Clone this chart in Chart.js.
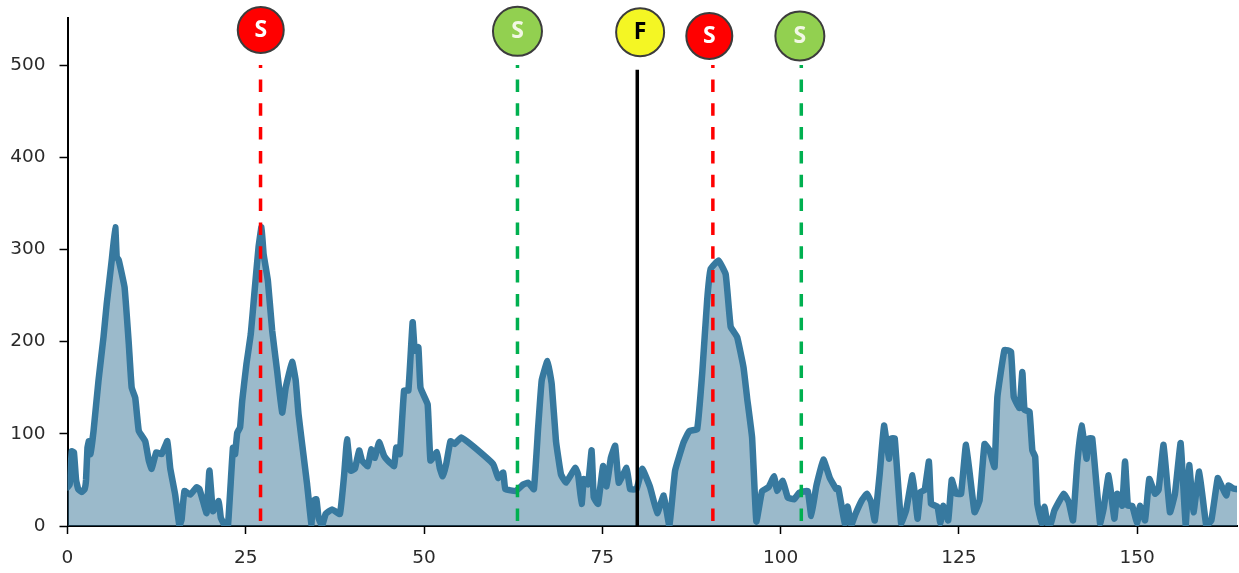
<!DOCTYPE html>
<html>
<head>
<meta charset="utf-8">
<title>chart</title>
<script src="https://cdn.jsdelivr.net/npm/chart.js@4"></script>
<style>
    html, body { margin: 0; padding: 0; background: #fff; }
    #wrap { width: 1239px; height: 573px; }
</style>
</head>
<body>
<div id="wrap"><canvas id="grafica" width="1239" height="573"></canvas></div>
<script>
// values
const seriesX = [0,0.3,0.6,0.9,1.2,1.5,2,2.4,2.6,2.8,3,3.2,3.65,4.35,5.05,5.5,6.2,6.7,6.9,7.2,8,8.6,9,9.5,10,10.9,11.4,11.8,12.45,13.2,14,14.4,15.1,15.7,16,16.4,17.2,18.1,18.5,19,19.5,19.9,20.4,21.2,21.5,22.1,22.5,23.2,23.5,23.8,24.2,24.5,25.1,25.7,26.2,26.8,27.2,27.5,28.1,28.7,29.4,30.1,30.6,31.5,32,32.4,32.9,33.6,34.2,34.4,34.9,35.2,35.7,36.2,37.1,38.2,38.8,39.2,39.7,40.3,40.9,41.3,42.1,42.6,43.1,43.7,44.4,44.9,45.8,46.1,46.6,47.2,47.8,48.4,48.7,49.2,49.5,50.5,50.9,51.8,52.2,52.6,53.1,53.7,54.3,55.2,56.8,59.7,60.4,61.1,61.4,62.9,63.9,64.6,65.4,66,66.5,67.3,67.9,68.5,69.2,69.9,71.2,71.6,72.1,72.4,73,73.5,73.8,74.4,75.1,75.6,76.2,76.8,77.3,78.4,78.9,79.8,80.6,81.7,82.7,83.6,84.4,85.2,86.4,87.2,88.3,89,89.7,90.2,91.3,92.3,93,93.9,94.8,95.3,96,96.6,97.4,98.3,99.1,99.5,100.3,101,101.9,102.6,103.8,104.3,105,106,106.9,107.8,108.1,109,109.4,109.9,110.5,111.4,112.1,112.7,113.2,113.9,114.5,115.2,115.5,116,116.9,117.6,118.5,119.2,119.6,120.2,120.8,121.1,122,122.4,122.8,123.5,124,124.6,125.3,126,127.2,127.9,128.6,129.3,130,130.4,131.4,132.3,132.7,133.5,133.9,134.2,134.9,135.3,135.7,136,136.6,137,137.4,137.9,138.4,139.7,140.4,141,141.6,142.2,142.9,143.2,143.7,144.8,145.3,146,146.8,147.2,147.9,148.3,148.7,149.3,150,150.4,151.1,151.7,152.5,153,153.7,154.6,155.3,156.1,156.8,157.3,157.9,158.7,159.7,160.4,161.3,161.8,162.5,162.8,163.4,164];
const seriesY = [42,45,81,80,50,40,37,40,50,85,92,78,103,158,205,241,288,324,292,288,259,197,150,139,103,92,71,62,80,78,92,63,34,0,7,38,34,42,40,27,14,60,16,27,9,0,0,85,78,101,107,136,176,208,252,303,324,295,266,212,168,123,150,178,158,121,89,45,2,27,29,9,0,13,18,13,56,94,60,62,82,71,65,83,74,91,76,71,65,85,78,147,147,221,190,194,150,132,71,80,63,54,67,92,89,96,87,67,52,58,40,38,45,47,40,107,158,179,154,92,56,47,63,56,24,51,45,82,31,24,65,43,74,87,47,63,40,40,62,42,14,33,0,60,91,103,105,165,245,279,288,273,216,205,172,139,96,5,38,42,54,38,49,31,29,36,38,11,43,72,52,40,41,3,21,1,13,28,35,26,6,57,109,73,95,95,3,17,55,8,37,39,70,24,21,3,22,6,50,35,35,88,15,28,89,82,64,140,191,189,140,128,167,126,124,82,75,24,3,21,3,3,17,35,26,6,68,109,73,95,95,3,19,55,8,35,22,70,22,22,3,22,6,51,35,39,88,15,35,90,1,66,15,59,0,6,52,44,33,44,41,40];

const yTicks = [0, 100, 200, 300, 400, 500];
const xTicks = [0, 25, 50, 75, 100, 125, 150];

const markerX = [27.1, 63.1, 80.3, 90, 102.7];
const markerY = [538, 536.5, 535.5, 531.5, 531.5];
const markerLetters = ['S', 'S', 'F', 'S', 'S'];
const markerKinds = ['stop', 'go', 'flag', 'stop', 'go'];

const lineX = [27.07, 63.1, 79.9, 90.5, 102.9];
const lineTop = [500, 500, 495, 500, 500];

const estilos = {
    stop: { fill: '#ff0000', text: '#ffffff', line: '#ff0000', dash: [12.5, 11.34], radius: 23 },
    go: { fill: '#92d050', text: '#f2f7e4', line: '#00b050', dash: [12.5, 11.34], radius: 24.5 },
    flag: { fill: '#f4f624', text: '#000000', line: '#000000', dash: [], radius: 24 }
};

// linea de cada marcador
const lineasMarcador = lineX.map(function(x, i) {
    const st = estilos[markerKinds[i]];
    return {
        type: 'line',
        data: [{ x: x, y: 0 }, { x: x, y: lineTop[i] }],
        borderColor: st.line,
        borderWidth: 3.5,
        borderDash: st.dash,
        borderDashOffset: 18.84,
        pointRadius: 0,
        fill: false,
        order: 2,
        clip: false
    };
});

const circulos = {
    type: 'scatter',
    data: markerX.map(function(x, i) { return { x: x, y: markerY[i] }; }),
    pointStyle: 'circle',
    pointRadius: markerKinds.map(function(k) { return estilos[k].radius; }),
    pointBackgroundColor: markerKinds.map(function(k) { return estilos[k].fill; }),
    pointBorderColor: '#3c3c3c',
    pointBorderWidth: 2,
    order: 1,
    clip: false
};

const letras = {
    id: 'letras',
    afterDatasetsDraw: function(chart) {
        const idx = chart.data.datasets.indexOf(circulos);
        const meta = chart.getDatasetMeta(idx);
        const c = chart.ctx;
        c.save();
        c.font = 'bold 23px "Noto Sans"';
        c.textAlign = 'center';
        c.textBaseline = 'middle';
        meta.data.forEach(function(p, i) {
            c.fillStyle = estilos[markerKinds[i]].text;
            c.fillText(markerLetters[i], p.x, p.y);
        });
        c.restore();
    }
};

const ctx = document.getElementById('grafica').getContext('2d');
const myChart = new Chart(ctx, {
    type: 'line',
    data: {
        datasets: [{
            data: seriesX.map(function(x, i) { return { x: x, y: seriesY[i] }; }),
            borderColor: '#37799f',
            backgroundColor: 'rgba(55, 117, 151, 0.5)',
            borderWidth: 6.5,
            borderJoinStyle: 'round',
            borderCapStyle: 'round',
            pointRadius: 0,
            tension: 0.1,
            fill: 'origin',
            order: 3
        }].concat(lineasMarcador, [circulos])
    },
    options: {
        responsive: false,
        animation: false,
        layout: { autoPadding: false, padding: { top: 18, right: 2, left: 0, bottom: 0 } },
        plugins: { legend: { display: false }, tooltip: { enabled: false } },
        scales: {
            x: {
                type: 'linear',
                min: 0,
                max: 164,
                afterFit: function(s) {
                    s.height = 47;
                    s.paddingLeft = 0;
                    s.paddingRight = 0;
                },
                afterBuildTicks: function(s) { s.ticks = xTicks.map(function(v) { return { value: v }; }); },
                grid: { drawOnChartArea: false, tickLength: 8, tickColor: '#000', tickWidth: 1.5 },
                border: { color: '#000', width: 2 },
                ticks: { color: '#2a2a2a', font: { family: 'DejaVu Sans', size: 18.5 }, maxRotation: 0, padding: 13, autoSkip: false }
            },
            y: {
                min: 0,
                max: 551,
                afterFit: function(s) {
                    s.width = 67.5;
                    s.paddingTop = 0;
                    s.paddingBottom = 0;
                },
                afterBuildTicks: function(s) { s.ticks = yTicks.map(function(v) { return { value: v }; }); },
                grid: { drawOnChartArea: false, tickLength: 8, tickColor: '#000', tickWidth: 1.5 },
                border: { color: '#000', width: 2 },
                ticks: { color: '#2a2a2a', font: { family: 'DejaVu Sans', size: 18.5 }, padding: 14, autoSkip: false }
            }
        }
    },
    plugins: [letras]
});
</script>
</body>
</html>
